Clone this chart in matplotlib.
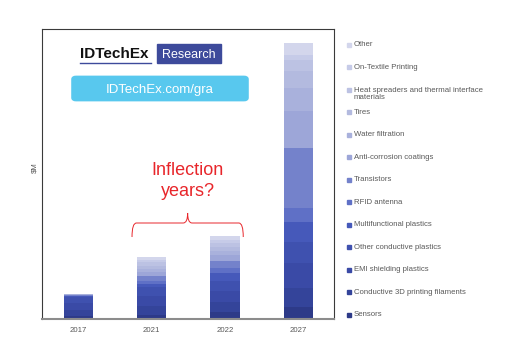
import numpy as np
import matplotlib.pyplot as plt
from matplotlib.patches import Rectangle, FancyBboxPatch, PathPatch
from matplotlib.path import Path

plt.rcParams['font.family'] = ['Liberation Sans', 'DejaVu Sans']

W, H = 512, 363

years = ['2017', '2021', '2022', '2027']
# stacked from bottom (Sensors) to top (Other)
segments = ['Sensors', 'Conductive 3D printing filaments', 'EMI shielding plastics',
            'Other conductive plastics', 'Multifunctional plastics', 'RFID antenna',
            'Transistors', 'Anti-corrosion coatings', 'Water filtration', 'Tires',
            'Heat spreaders and thermal interface\nmaterials', 'On-Textile Printing', 'Other']
v2017 = [3, 6, 7, 6, 1, 0.5, 0.5, 0.5, 0.5, 0, 0, 0, 0]
v2021 = [4, 9, 10, 9, 3, 3, 5, 4, 3, 3, 4, 2, 3]
v2022 = [7, 10, 11, 10, 8, 5, 7, 6, 4, 4, 4, 3, 4]
v2027 = [12, 19, 25, 21, 20, 14, 60, 37, 23, 17, 11, 5, 12]
colors = ['#2D3A88', '#34449A', '#3A4AA6', '#3F51AF', '#4659BA', '#5F70C6', '#7482CB',
          '#9DA6D8', '#A9B1DC', '#B3BADF', '#BCC2E3', '#C6CBE8', '#D3D6EC']

vals = np.array([v2017, v2021, v2022, v2027])

fig = plt.figure(figsize=(W / 100, H / 100), dpi=100)
ax = fig.add_axes([42 / W, 1 - 319 / H, (334 - 42) / W, (319 - 29) / H])

x = np.arange(len(years))
bottom = np.zeros(len(years))
for i, seg in enumerate(segments):
    ax.bar(x, vals[:, i], 0.4, bottom=bottom, color=colors[i], linewidth=0)
    bottom += vals[:, i]

ax.set_xlim(-0.5, 3.49)
ax.set_ylim(0, 290)
ax.set_xticks(x)
ax.set_xticklabels(years, fontsize=5.6, color='#595959')
ax.tick_params(axis='x', length=0, pad=6)
ax.set_yticks([])
for s in ['top', 'left', 'right']:
    ax.spines[s].set_color('#3a3a3a')
    ax.spines[s].set_linewidth(0.8)
ax.spines['bottom'].set_color('#8c8c8c')
ax.spines['bottom'].set_linewidth(1.5)

fig.text(35 / W, 1 - 168 / H, r'\$M', rotation=90, fontsize=5.6, color='#595959',
         ha='center', va='center')

# curly brace over 2021-2022
red = '#E8262B'
x0, x1 = 1 - 0.27, 2 + 0.25
xm = (x0 + x1) / 2
yt, yf, yc = 82, 96, 106
d = 0.06
verts = [(x0, yt), (x0, yf), (x0 + d, yf), (xm - d, yf), (xm, yf), (xm, yc),
         (xm, yc), (xm, yf), (xm + d, yf), (x1 - d, yf), (x1, yf), (x1, yt)]
codes = [Path.MOVETO, Path.CURVE3, Path.CURVE3, Path.LINETO, Path.CURVE3, Path.CURVE3,
         Path.MOVETO, Path.CURVE3, Path.CURVE3, Path.LINETO, Path.CURVE3, Path.CURVE3]
ax.add_patch(PathPatch(Path(verts, codes), fill=False, edgecolor=red, lw=0.7))
ax.text(xm, 138, 'Inflection\nyears?', color=red, fontsize=13, ha='center', va='center',
        linespacing=1.3)

# logo
fig.text(80 / W, 1 - 52.5 / H, 'IDTechEx', fontsize=11, fontweight='bold', color='#111111',
         ha='left', va='center_baseline')
fig.add_artist(plt.Line2D([80 / W, 151 / W], [1 - 62.5 / H, 1 - 62.5 / H], color='#3D4A9B',
                          lw=1.0, transform=fig.transFigure))
fig.add_artist(Rectangle((157 / W, 1 - 63 / H), 64 / W, 19 / H, color='#3D4A9B',
                         transform=fig.transFigure))
fig.text(189 / W, 1 - 54 / H, 'Research', fontsize=9, color='white', ha='center',
         va='center_baseline')
fig.add_artist(FancyBboxPatch((75 / W, 1 - 98.5 / H), 170 / W, 20 / H,
                              boxstyle='round,pad=0.006,rounding_size=0.008',
                              color='#58C8EE', transform=fig.transFigure))
fig.text(160 / W, 1 - 89 / H, 'IDTechEx.com/gra', fontsize=9.5, color='white',
         ha='center', va='center_baseline')

# legend (top to bottom)
for k, i in enumerate(range(len(segments) - 1, -1, -1)):
    yp = 44.7 + k * 22.5
    fig.add_artist(Rectangle((347 / W, 1 - (yp + 2) / H), 4 / W, 4 / H, color=colors[i],
                             transform=fig.transFigure))
    nl = segments[i].count('\n')
    fig.text(354 / W, 1 - (yp + nl * 4) / H, segments[i], fontsize=5.6, color='#595959',
             ha='left', va='center', linespacing=1.05)

fig.savefig('out.png', dpi=100)
